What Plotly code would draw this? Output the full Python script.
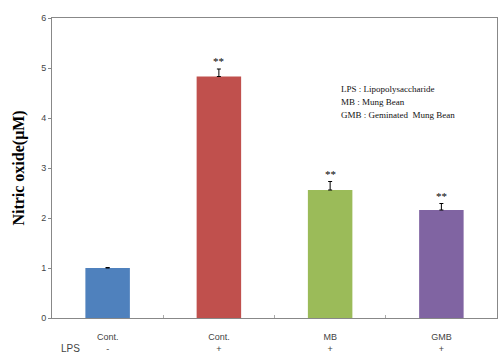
import plotly.graph_objects as go

categories = ["Cont.", "Cont.", "MB", "GMB"]
lps_signs = ["-", "+", "+", "+"]
values = [1.0, 4.83, 2.56, 2.16]
errors = [0.01, 0.15, 0.17, 0.13]
colors = ["#4F81BD", "#C0504D", "#9BBB59", "#8064A2"]
sig_marks = ["", "**", "**", "**"]
y_ticks = [0, 1, 2, 3, 4, 5, 6]
legend_lines = ["LPS : Lipopolysaccharide", "MB : Mung Bean", "GMB : Geminated  Mung Bean"]

x = list(range(len(categories)))

fig = go.Figure()
fig.add_trace(go.Bar(
    x=x, y=values, width=0.4,
    marker=dict(color=colors, line=dict(width=0)),
    error_y=dict(type="data", array=errors, arrayminus=[0]*len(errors), symmetric=False,
                 color="black", thickness=1, width=2),
    showlegend=False,
))

for xi, v, e, s in zip(x, values, errors, sig_marks):
    if s:
        fig.add_annotation(x=xi, y=v + e, text=s, showarrow=False, yshift=8,
                           font=dict(family="Liberation Serif", size=11, color="black"))

for i, line in enumerate(legend_lines):
    fig.add_annotation(xref="paper", yref="paper", x=0.644, y=0.764 - i * 0.043,
                       text=line, showarrow=False, xanchor="left", yanchor="middle",
                       font=dict(family="Liberation Serif", size=9, color="#111"))

fig.add_annotation(xref="paper", yref="paper", x=0.042, y=-0.1, text="LPS", showarrow=False,
                   xanchor="center", yanchor="middle",
                   font=dict(family="Liberation Sans Narrow, Liberation Sans", size=10, color="#444"))

fig.update_layout(
    width=498, height=353,
    margin=dict(l=52, r=1, t=18, b=35),
    plot_bgcolor="white", paper_bgcolor="white",
    xaxis=dict(range=[-0.5, 3.5], tickvals=x, automargin=False,
               ticktext=[f"{c}<br>{s}" for c, s in zip(categories, lps_signs)],
               tickfont=dict(family="Liberation Sans Narrow, Liberation Sans", size=9, color="#444"),
               ticklabelstandoff=10,
               showline=True, linecolor="#888", linewidth=1, mirror=True,
               ticks="", showgrid=False, zeroline=False,
               minor=dict(tickvals=[0.5, 1.5, 2.5], ticks="inside", ticklen=3, tickcolor="#aaa")),
    yaxis=dict(range=[0, 6], tickvals=y_ticks, automargin=False,
               tickfont=dict(family="Liberation Sans Narrow, Liberation Sans", size=9, color="#444"),
               showline=True, linecolor="#888", linewidth=1, mirror=True,
               ticks="outside", ticklen=3, tickcolor="#888", showgrid=False, zeroline=False,
               title=dict(text="<b>Nitric oxide(μM)</b>", standoff=12,
                          font=dict(family="Liberation Serif", size=16, color="black"))),
)

fig.write_html("out.html")
